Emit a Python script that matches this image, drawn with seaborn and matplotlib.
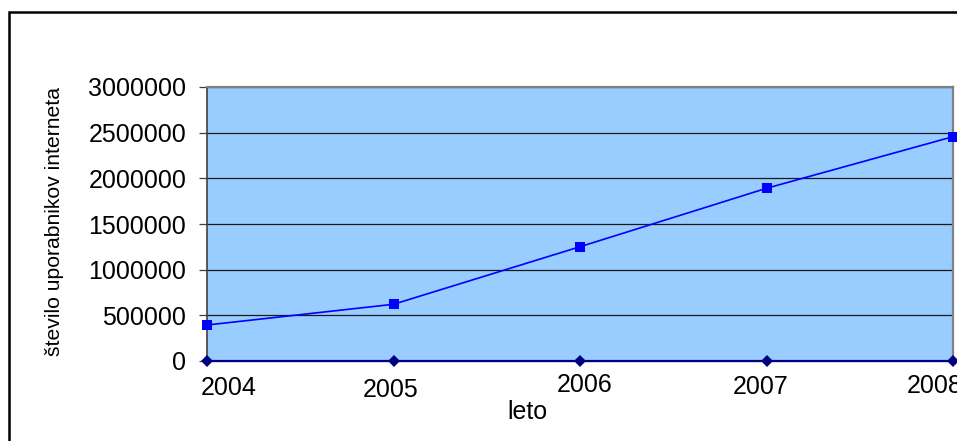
import matplotlib
matplotlib.use("Agg")
import matplotlib.pyplot as plt
import matplotlib.transforms as mtransforms
from matplotlib.patches import Rectangle
import seaborn as sns
import pandas as pd

# Data
years = [2004, 2005, 2006, 2007, 2008]
users = [394000, 621000, 1251000, 1891000, 2456000]
baseline = [0, 0, 0, 0, 0]
year_labels = ["2004", "2005", "2006", "2007", "2008"]
y_ticks = [0, 500000, 1000000, 1500000, 2000000, 2500000, 3000000]
y_tick_labels = ["0", "500000", "1000000", "1500000", "2000000", "2500000", "3000000"]

df = pd.DataFrame({"leto": years, "uporabniki": users, "osnova": baseline})

sns.set_style("white")
plt.rcParams["font.family"] = ["Liberation Sans", "DejaVu Sans"]

W, H = 957, 441
fig = plt.figure(figsize=(W / 100, H / 100), dpi=100)
ax = fig.add_axes([207 / W, (H - 361) / H, (953 - 207) / W, (361 - 87) / H])
ax.set_facecolor("#99CCFF")

# horizontal gridlines
for yv in y_ticks[1:]:
    ax.axhline(yv, color="#1a1a1a", lw=0.9, zorder=1)

sns.lineplot(data=df, x="leto", y="osnova", ax=ax, color="#000080", lw=1.6,
             marker="D", markersize=6.5, markeredgewidth=0, zorder=3, clip_on=False)
sns.lineplot(data=df, x="leto", y="uporabniki", ax=ax, color="#0000FF", lw=1.2,
             marker="s", markersize=7.5, markeredgewidth=0, zorder=4, clip_on=False)

ax.set_xlim(years[0], years[-1])
ax.set_ylim(y_ticks[0], y_ticks[-1])
ax.set_yticks(y_ticks)
ax.set_yticklabels(y_tick_labels)
ax.set_xticks(years)
ax.set_xticklabels(year_labels)

ax.tick_params(axis="y", left=True, length=6, width=0.9, color="#404040",
               pad=9, labelsize=18, labelcolor="black")
ax.tick_params(axis="x", bottom=False, length=0, pad=11, labelsize=18, labelcolor="black")

# small individual shifts of the category labels (pixels: dx, dy)
shifts = [(22, 0), (-3, -2), (5, 3), (-6, 1), (-18, 2)]
for lbl, (dx, dy) in zip(ax.get_xticklabels(), shifts):
    lbl.set_transform(lbl.get_transform() +
                      mtransforms.ScaledTranslation(dx / 100, dy / 100, fig.dpi_scale_trans))

for name, sp in ax.spines.items():
    sp.set_visible(True)
ax.spines["left"].set_color("#404040")
ax.spines["left"].set_linewidth(1.2)
ax.spines["top"].set_color("#808080")
ax.spines["top"].set_linewidth(1.6)
ax.spines["right"].set_color("#808080")
ax.spines["right"].set_linewidth(1.6)
ax.spines["bottom"].set_color("#000080")

ax.set_ylabel("število uporabnikov interneta", fontsize=15.2, color="black",
              va="center", ha="center")
ax.yaxis.set_label_coords((55 - 207) / (953 - 207), (361 - 222) / (361 - 87))
ax.set_xlabel("leto", fontsize=18, color="black", va="center", ha="center")
ax.xaxis.set_label_coords((527 - 207) / (953 - 207), (361 - 412) / (361 - 87))

# chart frame
frame = Rectangle((9 / W, -0.2), 1.2, 1 - 12 / H + 0.2, transform=fig.transFigure,
                  fill=False, edgecolor="black", lw=1.8, clip_on=False)
fig.patches.append(frame)

fig.savefig("out.png", dpi=100, facecolor="white")
